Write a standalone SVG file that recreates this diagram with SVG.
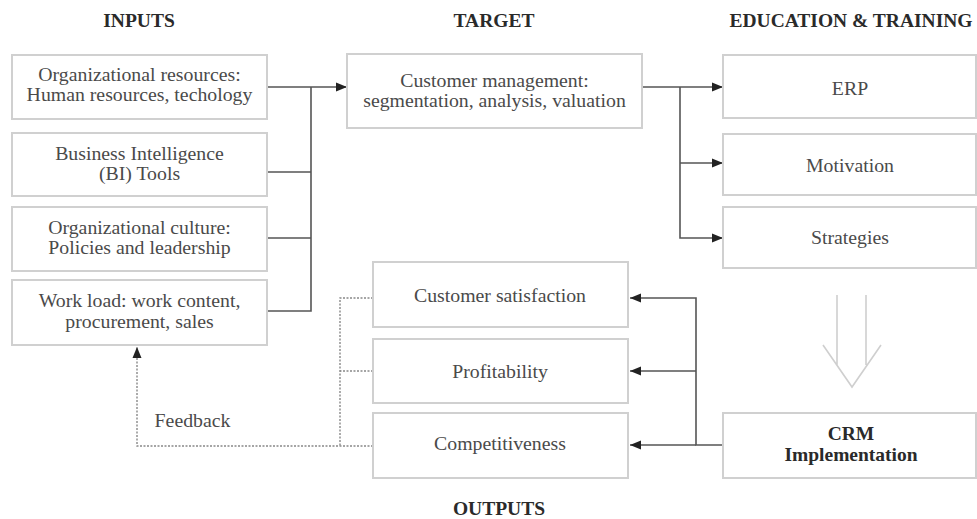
<svg xmlns="http://www.w3.org/2000/svg" width="977" height="519" viewBox="0 0 977 519">
<defs>
<style>
.box{fill:#fff;stroke:#d0d0d0;stroke-width:2}
.t{font-family:"Liberation Serif","Times New Roman",serif;font-size:19.8px;fill:#4a4a4a;text-anchor:middle}
.h{font-family:"Liberation Serif","Times New Roman",serif;font-size:19.5px;font-weight:bold;fill:#2a2a2a;text-anchor:middle}
.b{font-family:"Liberation Serif","Times New Roman",serif;font-size:19.5px;font-weight:bold;fill:#2a2a2a;text-anchor:middle}
.c{fill:none;stroke:#555;stroke-width:1.6}
.d{fill:none;stroke:#888;stroke-width:1.4;stroke-dasharray:2 1.5}
</style>
<marker id="ah" markerUnits="userSpaceOnUse" markerWidth="12" markerHeight="10" refX="11" refY="5" orient="auto">
<path d="M0,0.5 L11,5 L0,9.5 Z" fill="#222"/>
</marker>
</defs>
<rect width="977" height="519" fill="#fff"/>
<g id="headers">
<text class="h" x="139" y="27">INPUTS</text>
<text class="h" x="494" y="27">TARGET</text>
<text class="h" x="851" y="27">EDUCATION &amp; TRAINING</text>
<text class="h" x="499" y="515">OUTPUTS</text>
</g>
<g id="connectors">
<path class="c" d="M267,87 H347" marker-end="url(#ah)"/>
<path class="c" d="M311,87 V311 H267"/>
<path class="c" d="M267,172 H311"/>
<path class="c" d="M267,238 H311"/>
<path class="c" d="M642,87 H723" marker-end="url(#ah)"/>
<path class="c" d="M680,87 V238 H723" marker-end="url(#ah)"/>
<path class="c" d="M680,163 H723" marker-end="url(#ah)"/>
<path class="c" d="M723,445 H696 V298 H630" marker-end="url(#ah)"/>
<path class="c" d="M696,371 H630" marker-end="url(#ah)"/>
<path class="c" d="M696,445 H630" marker-end="url(#ah)"/>
<path class="d" d="M373,298 H340 V446"/>
<path class="d" d="M373,371 H340"/>
<path class="d" d="M373,446 H137 V347" marker-end="url(#ah)"/>
<g id="down-arrow" fill="none" stroke="#cfcfcf" stroke-width="1.6">
<path d="M837,295 V365 M866,295 V365 M823,345 L852,387 L881,345"/>
</g>
</g>
<g id="n-org-resources">
<rect class="box" x="12" y="55" width="255" height="64"/>
<text class="t" x="139.5" y="81">Organizational resources:</text>
<text class="t" x="139.5" y="101">Human resources, techology</text>
</g>
<g id="n-bi-tools">
<rect class="box" x="12" y="133" width="255" height="63"/>
<text class="t" x="139.5" y="160">Business Intelligence</text>
<text class="t" x="139.5" y="180">(BI) Tools</text>
</g>
<g id="n-org-culture">
<rect class="box" x="12" y="207" width="255" height="64"/>
<text class="t" x="139.5" y="234">Organizational culture:</text>
<text class="t" x="139.5" y="254">Policies and leadership</text>
</g>
<g id="n-work-load">
<rect class="box" x="12" y="280" width="255" height="65"/>
<text class="t" x="139.5" y="307">Work load: work content,</text>
<text class="t" x="139.5" y="328">procurement, sales</text>
</g>
<g id="n-customer-management">
<rect class="box" x="347" y="54" width="295" height="74"/>
<text class="t" x="494.5" y="87">Customer management:</text>
<text class="t" x="494.5" y="107">segmentation, analysis, valuation</text>
</g>
<g id="n-erp">
<rect class="box" x="723" y="55" width="253" height="63"/>
<text class="t" x="850" y="95">ERP</text>
</g>
<g id="n-motivation">
<rect class="box" x="723" y="134" width="253" height="61"/>
<text class="t" x="850" y="172">Motivation</text>
</g>
<g id="n-strategies">
<rect class="box" x="723" y="207" width="253" height="61"/>
<text class="t" x="850" y="244">Strategies</text>
</g>
<g id="n-customer-satisfaction">
<rect class="box" x="373" y="262" width="255" height="65"/>
<text class="t" x="500" y="302">Customer satisfaction</text>
</g>
<g id="n-profitability">
<rect class="box" x="373" y="339" width="255" height="64"/>
<text class="t" x="500" y="378">Profitability</text>
</g>
<g id="n-competitiveness">
<rect class="box" x="373" y="413" width="255" height="65"/>
<text class="t" x="500" y="450">Competitiveness</text>
</g>
<g id="n-crm">
<rect class="box" x="723" y="413" width="253" height="65"/>
<text class="b" x="851" y="440">CRM</text>
<text class="b" x="851" y="461">Implementation</text>
</g>
<g id="feedback-label">
<text class="t" x="192.5" y="427">Feedback</text>
</g>
</svg>
